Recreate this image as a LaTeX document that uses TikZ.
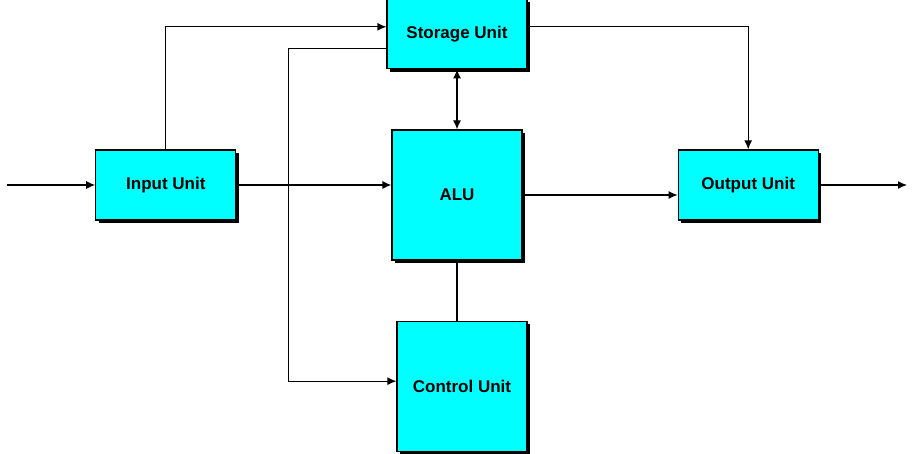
\documentclass[tikz,border=0pt]{standalone}
\usepackage{fontspec}
\setmainfont{Liberation Sans}
\usepackage{xcolor}
\usepackage{tikz}
\usetikzlibrary{calc}
\usetikzlibrary{positioning}
\usetikzlibrary{arrows.meta}
\usetikzlibrary{shadows}

\definecolor{unitcyan}{RGB}{0,255,255}

\begin{document}
\begin{tikzpicture}[x=1pt,y=-1pt,font=\fontsize{17}{20}\selectfont\bfseries,
      unit style/.style={rectangle,draw=black,line width=1.2pt,fill=unitcyan,
        inner sep=0pt,align=center,
        drop shadow={shadow xshift=3pt,shadow yshift=-3pt,opacity=1,fill=black}},
      wide style/.style={unit style,minimum width=140pt,minimum height=70pt},
      big style/.style={unit style,minimum width=130pt,minimum height=130pt},
      line style/.style={draw=black,line width=1.2pt},
      arr style/.style={line style,-{Latex[length=9pt,width=8pt]}}
      ]
      \useasboundingbox (0,0) rectangle (916,454);

      \node[big style] (alu) at (457,195) {ALU};
      \node[wide style, above=60pt of alu] (store) {Storage Unit};
      \node[big style, below=60pt of alu, xshift=5pt] (ctrl) {Control Unit};
      \node[wide style, left=155pt of alu, yshift=10pt] (inp) {Input Unit};
      \node[wide style, right=155pt of alu, yshift=10pt] (out) {Output Unit};

      \coordinate (src) at (7,185);
      \coordinate (sink) at (907,185);

      \draw[arr style] (src) -- (inp.west);
      \draw[arr style] (inp.north) |- ([yshift=7pt]store.west);
      \draw[arr style] (inp.east) -- (inp.east -| alu.west);
      \draw[arr style] ([yshift=-15pt]store.west) -- ++(-98,0) |- ([yshift=5pt]ctrl.west);
      \draw[line style,{Latex[length=9pt,width=8pt]}-{Latex[length=9pt,width=8pt]}] (store.south) -- (alu.north);
      \draw[line style] (alu.south) -- (alu.south |- ctrl.north);
      \draw[arr style] (alu.east) -- (alu.east -| out.west);
      \draw[arr style] ([yshift=7pt]store.east) -| (out.north);
      \draw[arr style] (out.east) -- (sink);

    \end{tikzpicture}
\end{document}
